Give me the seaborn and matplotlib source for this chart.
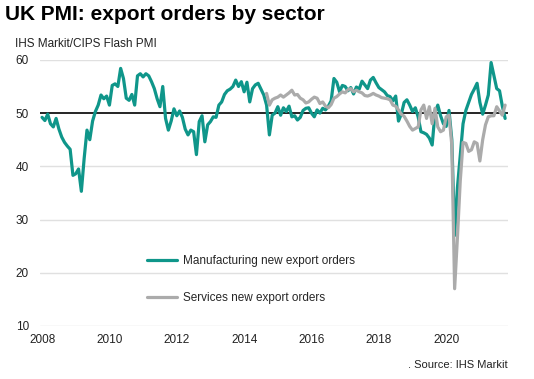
import numpy as np
import pandas as pd
import seaborn as sns
import matplotlib.pyplot as plt

# Monthly readings, Jan 2008 - Oct 2021 (manufacturing), Sep 2014 - Oct 2021 (services)
manufacturing = [
    49.2, 48.6, 49.8, 48.0, 47.4, 49.0, 47.0, 45.5, 44.5, 43.8, 43.2, 38.3,  # 2008
    38.6, 39.5, 35.3, 41.5, 46.8, 45.0, 48.5, 50.3, 51.5, 53.4, 52.7, 53.2,  # 2009
    51.5, 55.2, 55.5, 55.0, 58.4, 56.5, 52.8, 52.4, 53.5, 51.5, 57.0, 57.4,  # 2010
    56.8, 57.4, 57.0, 55.9, 54.6, 52.7, 51.2, 55.0, 49.0, 46.8, 48.5, 50.8,  # 2011
    49.5, 50.4, 49.2, 47.0, 45.9, 46.8, 46.5, 42.2, 48.4, 49.5, 44.6, 47.8,  # 2012
    48.4, 49.3, 49.2, 51.5, 52.1, 53.5, 54.2, 54.5, 55.0, 56.2, 55.0, 55.9,  # 2013
    54.0, 55.8, 52.1, 54.6, 55.3, 55.6, 54.5, 53.4, 51.5, 45.9, 49.6, 50.0,  # 2014
    51.2, 49.6, 51.0, 50.3, 51.3, 49.3, 49.5, 48.7, 49.2, 50.5, 50.9, 51.0,  # 2015
    50.0, 49.3, 50.6, 50.0, 50.9, 50.6, 51.3, 52.3, 56.5, 55.8, 54.0, 55.2,  # 2016
    55.0, 54.2, 54.8, 53.6, 54.9, 54.5, 56.0, 55.3, 54.6, 56.2, 56.7, 55.7,  # 2017
    54.8, 54.4, 54.0, 53.3, 53.1, 52.3, 53.2, 48.5, 49.8, 52.0, 52.5, 51.5,  # 2018
    50.3, 51.0, 49.3, 46.5, 46.3, 46.0, 45.3, 44.0, 50.0, 51.5, 49.5, 48.0,  # 2019
    47.5, 50.5, 45.0, 27.0, 36.0, 42.0, 48.0, 50.5, 52.0, 53.5, 54.5, 55.6,  # 2020
    52.0, 49.8, 51.5, 53.4, 59.5, 57.0, 54.6, 54.2, 51.3, 49.0,              # 2021
]
services = [
    53.7, 51.5, 52.5, 52.8,                                                  # 2014
    53.0, 53.4, 53.0, 53.4, 53.8, 54.3, 53.4, 53.5, 52.8, 52.5, 51.9, 52.1,  # 2015
    52.6, 53.0, 52.8, 51.8, 52.1, 51.3, 51.0, 51.6, 52.8, 53.1, 53.6, 54.0,  # 2016
    53.8, 54.4, 54.6, 54.0, 54.3, 54.0, 53.8, 53.3, 53.2, 53.4, 53.7, 53.4,  # 2017
    53.2, 52.9, 52.8, 52.7, 52.5, 51.5, 51.3, 50.6, 49.8, 49.4, 48.5, 47.5,  # 2018
    46.8, 47.1, 47.4, 50.6, 51.5, 49.0, 51.2, 48.0, 50.9, 47.4, 46.5, 46.8,  # 2019
    49.3, 49.6, 44.0, 17.0, 26.6, 37.2, 44.5, 44.3, 42.8, 43.1, 44.6, 44.3,  # 2020
    41.0, 45.0, 47.8, 49.3, 49.5, 49.5, 51.2, 50.4, 49.6, 51.5,              # 2021
]
year_ticks = [2008, 2010, 2012, 2014, 2016, 2018, 2020]

mfg = pd.DataFrame({"date": 2008 + np.arange(len(manufacturing)) / 12, "value": manufacturing})
svc = pd.DataFrame({"date": 2014 + 8 / 12 + np.arange(len(services)) / 12, "value": services})

sns.set_theme(style="white")
plt.rcParams['font.family'] = ['Liberation Sans', 'DejaVu Sans']

teal = "#0f968a"
grey = "#ababab"

fig = plt.figure(figsize=(5.34, 3.79), dpi=100)
ax = fig.add_axes([0.075, 0.14, 0.876, 0.702])

for v in [10, 20, 30, 40, 60]:
    ax.axhline(v, color="#e0e0e0", lw=1, zorder=1)
ax.axhline(50, color="black", lw=1.2, zorder=1.5)

sns.lineplot(data=mfg, x="date", y="value", color=teal, lw=2.3,
             label="Manufacturing new export orders", ax=ax, zorder=3)
sns.lineplot(data=svc, x="date", y="value", color=grey, lw=2.3,
             label="Services new export orders", ax=ax, zorder=4)

ax.set_xlim(2007.94, 2021.83)
ax.set_ylim(10, 60)
ax.set_xticks(year_ticks)
ax.set_xticklabels([str(y) for y in year_ticks])
ax.set_yticks([10, 20, 30, 40, 50, 60])
ax.tick_params(axis="both", length=0, labelsize=8.5, colors="#222222")
ax.tick_params(axis="y", pad=8)
ax.tick_params(axis="x", pad=6)
ax.set_xlabel("")
ax.set_ylabel("")
for s in ax.spines.values():
    s.set_visible(False)

ax.legend(loc="upper left", bbox_to_anchor=(0.215, 0.288), frameon=False,
          fontsize=8.5, handlelength=2.6, handletextpad=0.5, labelspacing=2.1,
          borderpad=0)

fig.text(0.01, 0.962, "UK PMI: export orders by sector", fontsize=15,
         fontweight="bold", ha="left", va="center", color="black")
fig.text(0.028, 0.883, "IHS Markit/CIPS Flash PMI", fontsize=8.5,
         ha="left", va="center", color="#222222")
fig.text(0.95, 0.037, ". Source: IHS Markit", fontsize=8,
         ha="right", va="center", color="#222222")

fig.savefig("out.png", dpi=100)
